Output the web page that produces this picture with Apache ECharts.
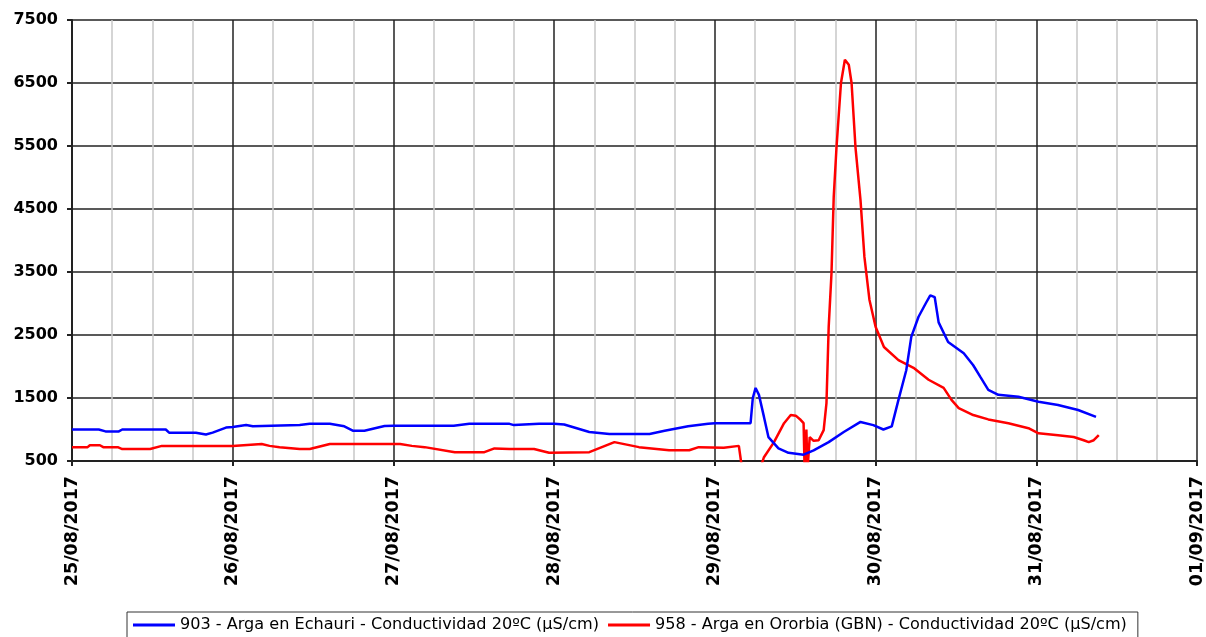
<!DOCTYPE html>
<html>
<head>
<meta charset="utf-8">
<script src="https://cdn.jsdelivr.net/npm/echarts@6/dist/echarts.min.js"></script>
<style>
  html, body { margin: 0; padding: 0; background: #fff; }
  #main { width: 1206px; height: 637px; }
</style>
</head>
<body>
<div id="main"></div>
<script>
// serie 903 - Arga en Echauri
var echauriTimes = [
  '2017-08-25 00:00', '2017-08-25 04:00', '2017-08-25 05:00', '2017-08-25 07:00', '2017-08-25 07:30',
  '2017-08-25 14:00', '2017-08-25 14:30', '2017-08-25 18:30', '2017-08-25 20:00', '2017-08-25 21:00',
  '2017-08-25 23:00', '2017-08-26 00:00', '2017-08-26 02:00', '2017-08-26 03:00', '2017-08-26 10:00',
  '2017-08-26 11:30', '2017-08-26 14:30', '2017-08-26 16:40', '2017-08-26 18:00', '2017-08-26 19:40',
  '2017-08-26 22:40', '2017-08-27 00:00', '2017-08-27 09:00', '2017-08-27 11:20', '2017-08-27 17:20',
  '2017-08-27 18:00', '2017-08-27 21:45', '2017-08-28 00:00', '2017-08-28 01:30', '2017-08-28 05:15',
  '2017-08-28 08:15', '2017-08-28 14:15', '2017-08-28 16:30', '2017-08-28 20:00', '2017-08-28 23:00',
  '2017-08-29 00:00', '2017-08-29 05:20', '2017-08-29 05:40', '2017-08-29 06:05', '2017-08-29 06:35',
  '2017-08-29 07:20', '2017-08-29 08:00', '2017-08-29 09:30', '2017-08-29 11:00', '2017-08-29 13:15',
  '2017-08-29 14:45', '2017-08-29 17:00', '2017-08-29 19:15', '2017-08-29 21:45', '2017-08-29 23:40',
  '2017-08-30 01:10', '2017-08-30 02:25', '2017-08-30 03:25', '2017-08-30 04:35', '2017-08-30 05:20',
  '2017-08-30 06:25', '2017-08-30 07:35', '2017-08-30 08:10', '2017-08-30 08:50', '2017-08-30 09:25',
  '2017-08-30 10:50', '2017-08-30 13:10', '2017-08-30 14:35', '2017-08-30 15:40', '2017-08-30 16:50',
  '2017-08-30 18:20', '2017-08-30 21:20', '2017-08-31 00:20', '2017-08-31 03:15', '2017-08-31 06:15',
  '2017-08-31 08:55'
];
var echauriValues = [
  1000, 1000, 970, 970, 1000,
  1000, 950, 950, 920, 950,
  1030, 1040, 1070, 1050, 1070,
  1090, 1090, 1050, 980, 980,
  1055, 1060, 1060, 1090, 1090,
  1070, 1090, 1090, 1080, 960,
  930, 930, 980, 1050, 1090,
  1100, 1100, 1500, 1660, 1550,
  1200, 880, 700, 630, 600,
  670, 800, 960, 1120, 1070,
  1000, 1050, 1470, 1940, 2470,
  2790, 3020, 3130, 3100, 2700,
  2390, 2210, 2020, 1830, 1630,
  1550, 1520, 1440, 1390, 1310,
  1200
];

// serie 958 - Arga en Ororbia (GBN)
var ororbiaTimes = [
  '2017-08-25 00:00', '2017-08-25 02:20', '2017-08-25 02:40', '2017-08-25 04:10', '2017-08-25 04:40',
  '2017-08-25 06:50', '2017-08-25 07:30', '2017-08-25 11:40', '2017-08-25 13:25', '2017-08-26 00:00',
  '2017-08-26 04:20', '2017-08-26 05:30', '2017-08-26 07:00', '2017-08-26 10:00', '2017-08-26 11:30',
  '2017-08-26 14:30', '2017-08-27 01:00', '2017-08-27 02:45', '2017-08-27 04:40', '2017-08-27 09:10',
  '2017-08-27 13:35', '2017-08-27 15:05', '2017-08-27 17:20', '2017-08-27 21:00', '2017-08-27 23:15',
  '2017-08-28 05:15', '2017-08-28 09:00', '2017-08-28 12:40', '2017-08-28 17:10', '2017-08-28 20:10',
  '2017-08-28 21:35', '2017-08-29 01:20', '2017-08-29 03:35', '2017-08-29 04:10', '2017-08-29 06:50',
  '2017-08-29 07:20', '2017-08-29 08:50', '2017-08-29 10:20', '2017-08-29 11:20', '2017-08-29 12:05',
  '2017-08-29 12:50', '2017-08-29 13:15', '2017-08-29 13:25', '2017-08-29 13:40', '2017-08-29 13:50',
  '2017-08-29 14:10', '2017-08-29 14:45', '2017-08-29 15:30', '2017-08-29 16:15', '2017-08-29 16:40',
  '2017-08-29 17:00', '2017-08-29 17:25', '2017-08-29 17:45', '2017-08-29 18:10', '2017-08-29 18:50',
  '2017-08-29 19:25', '2017-08-29 20:00', '2017-08-29 20:25', '2017-08-29 21:00', '2017-08-29 21:45',
  '2017-08-29 22:20', '2017-08-29 23:05', '2017-08-30 00:00', '2017-08-30 01:15', '2017-08-30 03:25',
  '2017-08-30 05:40', '2017-08-30 07:55', '2017-08-30 10:10', '2017-08-30 11:20', '2017-08-30 12:25',
  '2017-08-30 14:35', '2017-08-30 16:50', '2017-08-30 19:50', '2017-08-30 22:50', '2017-08-31 00:20',
  '2017-08-31 03:15', '2017-08-31 05:35', '2017-08-31 07:05', '2017-08-31 07:50', '2017-08-31 08:35',
  '2017-08-31 09:20'
];
var ororbiaValues = [
  720, 720, 750, 750, 720,
  720, 690, 690, 740, 740,
  770, 740, 720, 690, 690,
  770, 770, 740, 720, 640,
  640, 700, 690, 690, 630,
  640, 800, 720, 670, 670,
  720, 710, 740, 300, 400,
  560, 800, 1100, 1230, 1220,
  1150, 1100, 300, 1000, 350,
  880, 820, 830, 990, 1420,
  2630, 3480, 4690, 5480, 6500,
  6870, 6790, 6500, 5480, 4640,
  3740, 3060, 2630, 2310, 2100,
  1980, 1790, 1660, 1470, 1340,
  1230, 1160, 1100, 1020, 940,
  910, 880, 830, 800, 830,
  910
];

var DAY = 86400000;
var startDay = Date.UTC(2017, 7, 25);
var endDay = Date.UTC(2017, 8, 1);

function toMs(s) {
  return new Date(s.replace(' ', 'T') + ':00Z').getTime();
}
function pairs(times, values) {
  return times.map(function (t, i) { return [toMs(t), values[i]]; });
}
function pad(n) { return n < 10 ? '0' + n : '' + n; }

var chart = echarts.init(document.getElementById('main'));
chart.setOption({
  animation: false,
  backgroundColor: '#fff',
  grid: { left: 72, right: 8, top: 20, bottom: 176 },
  legend: {
    top: 612,
    left: 127,
    padding: [5, 11, 12, 6],
    itemGap: 9,
    itemWidth: 42,
    itemHeight: 3,
    icon: 'rect',
    borderColor: '#333',
    borderWidth: 1,
    textStyle: { fontFamily: 'DejaVu Sans', fontSize: 16.1, color: '#000' },
    data: [
      '903 - Arga en Echauri - Conductividad 20ºC (µS/cm)',
      '958 - Arga en Ororbia (GBN) - Conductividad 20ºC (µS/cm)'
    ]
  },
  xAxis: {
    type: 'value',
    min: startDay,
    max: endDay,
    interval: DAY,
    axisLine: { lineStyle: { color: '#222', width: 2 } },
    axisTick: { show: true, length: 5, lineStyle: { color: '#222', width: 2 } },
    axisLabel: {
      rotate: 90,
      margin: 15,
      fontFamily: 'DejaVu Sans',
      fontWeight: 'bold',
      fontSize: 17.5,
      color: '#000',
      formatter: function (v) {
        var d = new Date(v);
        return pad(d.getUTCDate()) + '/' + pad(d.getUTCMonth() + 1) + '/' + d.getUTCFullYear();
      }
    },
    splitLine: { show: true, lineStyle: { color: '#222', width: 1.5 } },
    minorTick: { show: false, splitNumber: 4 },
    minorSplitLine: { show: true, lineStyle: { color: '#c8c8c8', width: 1.5 } }
  },
  yAxis: {
    type: 'value',
    min: 500,
    max: 7500,
    interval: 1000,
    axisLine: { show: true, lineStyle: { color: '#222', width: 2 } },
    axisTick: { show: true, length: 5, lineStyle: { color: '#222', width: 2 } },
    axisLabel: {
      margin: 14,
      fontFamily: 'DejaVu Sans',
      fontWeight: 'bold',
      fontSize: 16,
      color: '#000',
      formatter: function (v) { return String(v); }
    },
    splitLine: { show: true, lineStyle: { color: '#222', width: 1.5 } }
  },
  series: [
    {
      name: '903 - Arga en Echauri - Conductividad 20ºC (µS/cm)',
      type: 'line',
      z: 3,
      showSymbol: false,
      color: '#0000ff',
      lineStyle: { width: 2.5, color: '#0000ff' },
      data: pairs(echauriTimes, echauriValues)
    },
    {
      name: '958 - Arga en Ororbia (GBN) - Conductividad 20ºC (µS/cm)',
      type: 'line',
      z: 2,
      showSymbol: false,
      color: '#ff0000',
      lineStyle: { width: 2.5, color: '#ff0000' },
      data: pairs(ororbiaTimes, ororbiaValues)
    }
  ]
});
</script>
</body>
</html>
